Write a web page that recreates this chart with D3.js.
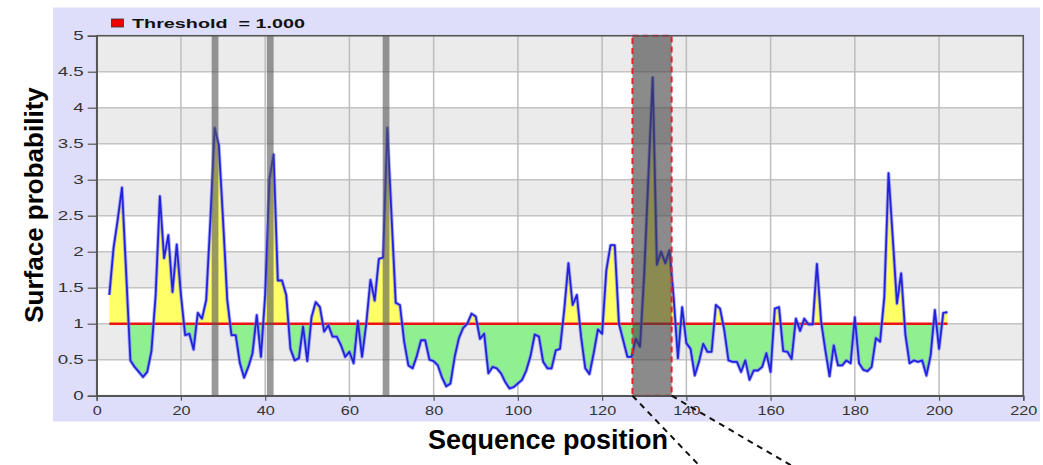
<!DOCTYPE html>
<html>
<head>
<meta charset="utf-8">
<script src="https://cdn.jsdelivr.net/npm/d3@7"></script>
<style>
  body { margin: 0; background: #fff; }
  svg { display: block; }
  text { font-family: "Liberation Sans", Arial, sans-serif; }
</style>
</head>
<body>
<div id="chart"></div>
<script>
// Sequence positions start at 3, one value per residue
const startPosition = 3;
const surfaceValues = [
  1.40, 2.05, 2.45, 2.89, 1.70, 0.49, 0.40, 0.33, 0.26, 0.33,
  0.62, 1.40, 2.77, 1.91, 2.23, 1.44, 2.10, 1.40, 0.84, 0.86,
  0.64, 1.15, 1.07, 1.33, 2.45, 3.72, 3.48, 2.44, 1.33, 0.84,
  0.84, 0.45, 0.25, 0.40, 0.59, 1.12, 0.54, 1.40, 3.00, 3.35,
  1.60, 1.60, 1.40, 0.65, 0.49, 0.52, 0.96, 0.48, 1.09, 1.30,
  1.23, 0.89, 0.98, 0.82, 0.82, 0.70, 0.54, 0.61, 0.45, 1.04,
  0.54, 1.00, 1.61, 1.32, 1.90, 1.92, 3.72, 2.50, 1.29, 1.26,
  0.75, 0.42, 0.38, 0.55, 0.77, 0.77, 0.50, 0.48, 0.42, 0.25,
  0.13, 0.17, 0.54, 0.80, 0.94, 1.00, 1.14, 1.10, 0.79, 0.86,
  0.31, 0.40, 0.38, 0.31, 0.19, 0.10, 0.12, 0.17, 0.22, 0.35,
  0.55, 0.85, 0.82, 0.47, 0.38, 0.38, 0.63, 0.65, 1.19, 1.84,
  1.26, 1.40, 0.82, 0.38, 0.30, 0.59, 0.92, 0.86, 1.74, 2.09,
  2.09, 1.00, 0.77, 0.54, 0.54, 0.79, 0.68, 1.70, 3.06, 4.42,
  1.82, 2.00, 1.84, 2.02, 1.35, 0.52, 1.23, 0.73, 0.65, 0.28,
  0.47, 0.72, 0.61, 0.61, 1.26, 1.21, 0.91, 0.49, 0.47, 0.47,
  0.33, 0.49, 0.22, 0.35, 0.35, 0.40, 0.59, 0.33, 1.21, 1.23,
  0.62, 0.61, 0.51, 1.07, 0.90, 1.07, 0.99, 0.99, 1.83, 1.03,
  0.63, 0.27, 0.70, 0.42, 0.42, 0.49, 0.45, 1.09, 0.45, 0.36,
  0.34, 0.40, 0.80, 0.75, 1.37, 3.09, 2.20, 1.28, 1.70, 0.85,
  0.45, 0.49, 0.47, 0.49, 0.28, 0.56, 1.19, 0.65, 1.15, 1.16
];
const threshold = 1.0;
const xTicks = [0, 20, 40, 60, 80, 100, 120, 140, 160, 180, 200, 220];
const yTicks = [0, 0.5, 1, 1.5, 2, 2.5, 3, 3.5, 4, 4.5, 5];
// highlighted epitope columns (sequence ranges)
const epitopeBars = [[27.3, 28.9], [40.4, 42.0], [67.9, 69.5]];
const selectedRange = [127.2, 136.5];

const width = 1043;
const height = 465;
const plot = { left: 96.7, right: 1023.3, top: 35.7, bottom: 395.7 };

const data = surfaceValues.map((v, i) => ({ pos: startPosition + i, value: v }));

const svg = d3.select("#chart")
    .append("svg")
    .attr("width", width)
    .attr("height", height);

const x = d3.scaleLinear().domain([0, 220]).range([plot.left, plot.right]);
const y = d3.scaleLinear().domain([0, 5]).range([plot.bottom, plot.top]);

// lavender chart panel
svg.append("rect")
    .attr("x", 53).attr("y", 7.5)
    .attr("width", 987).attr("height", 414)
    .attr("fill", "#dedefa");

// alternating bands
const bands = yTicks.slice(0, -1).map((t, i) => [t, yTicks[i + 1]]);
svg.append("g")
    .selectAll("rect")
    .data(bands)
    .join("rect")
    .attr("x", plot.left)
    .attr("y", d => y(d[1]))
    .attr("width", plot.right - plot.left)
    .attr("height", d => y(d[0]) - y(d[1]))
    .attr("fill", (d, i) => i % 2 === 0 ? "#ffffff" : "#ebebeb");

// grid
svg.append("g")
    .selectAll("line")
    .data(yTicks)
    .join("line")
    .attr("x1", plot.left).attr("x2", plot.right)
    .attr("y1", d => y(d)).attr("y2", d => y(d))
    .attr("stroke", "#c4c4c4")
    .attr("stroke-width", 1.5);

svg.append("g")
    .selectAll("line")
    .data(xTicks)
    .join("line")
    .attr("x1", d => x(d)).attr("x2", d => x(d))
    .attr("y1", plot.top).attr("y2", plot.bottom)
    .attr("stroke", "#bdbdbd")
    .attr("stroke-width", 1.5);

// fills between the curve and the threshold
const defs = svg.append("defs");
defs.append("clipPath").attr("id", "above")
    .append("rect")
    .attr("x", plot.left).attr("y", plot.top)
    .attr("width", plot.right - plot.left)
    .attr("height", y(threshold) - plot.top);
defs.append("clipPath").attr("id", "below")
    .append("rect")
    .attr("x", plot.left).attr("y", y(threshold))
    .attr("width", plot.right - plot.left)
    .attr("height", plot.bottom - y(threshold));

const area = d3.area()
    .x(d => x(d.pos))
    .y0(y(threshold))
    .y1(d => y(d.value));

svg.append("path")
    .datum(data)
    .attr("d", area)
    .attr("fill", "#ffff66")
    .attr("clip-path", "url(#above)");

svg.append("path")
    .datum(data)
    .attr("d", area)
    .attr("fill", "#8ef08e")
    .attr("clip-path", "url(#below)");

// threshold line
svg.append("line")
    .attr("x1", x(data[0].pos))
    .attr("x2", x(data[data.length - 1].pos))
    .attr("y1", y(threshold)).attr("y2", y(threshold))
    .attr("stroke", "#ee1111")
    .attr("stroke-width", 2.5);

// surface probability curve (soft halo + core)
const line = d3.line()
    .x(d => x(d.pos))
    .y(d => y(d.value));

svg.append("path")
    .datum(data)
    .attr("d", line)
    .attr("fill", "none")
    .attr("stroke", "#7a7aff")
    .attr("stroke-opacity", 0.6)
    .attr("stroke-width", 3.6)
    .attr("stroke-linejoin", "round");

svg.append("path")
    .datum(data)
    .attr("d", line)
    .attr("fill", "none")
    .attr("stroke", "#2222dd")
    .attr("stroke-width", 1.8)
    .attr("stroke-linejoin", "round");

// epitope columns
svg.append("g")
    .selectAll("rect")
    .data(epitopeBars)
    .join("rect")
    .attr("x", d => x(d[0]))
    .attr("y", plot.top)
    .attr("width", d => x(d[1]) - x(d[0]))
    .attr("height", plot.bottom - plot.top)
    .attr("fill", "#555")
    .attr("fill-opacity", 0.6);

// selected region
svg.append("rect")
    .attr("x", x(selectedRange[0]))
    .attr("y", plot.top)
    .attr("width", x(selectedRange[1]) - x(selectedRange[0]))
    .attr("height", plot.bottom - plot.top)
    .attr("fill", "#444")
    .attr("fill-opacity", 0.62)
    .attr("stroke", "#e8202a")
    .attr("stroke-width", 2)
    .attr("stroke-dasharray", "6,4");

// frame
svg.append("rect")
    .attr("x", plot.left).attr("y", plot.top)
    .attr("width", plot.right - plot.left)
    .attr("height", plot.bottom - plot.top)
    .attr("fill", "none")
    .attr("stroke", "#555")
    .attr("stroke-width", 1.5);

// axes
const yAxis = svg.append("g")
    .attr("transform", `translate(${plot.left},0)`)
    .call(d3.axisLeft(y).tickValues(yTicks).tickFormat(d => String(d)).tickSize(9).tickPadding(4));
const xAxis = svg.append("g")
    .attr("transform", `translate(0,${plot.bottom})`)
    .call(d3.axisBottom(x).tickValues(xTicks).tickFormat(d => String(d)).tickSize(5).tickPadding(5));

[yAxis, xAxis].forEach(g => {
    g.select(".domain").attr("stroke", "#555").attr("stroke-width", 1.5);
    g.selectAll(".tick line").attr("stroke", "#555").attr("stroke-width", 1.2);
    g.selectAll(".tick text")
        .attr("fill", "#333")
        .attr("font-size", 12.5)
        .attr("font-family", "Liberation Sans, Arial, sans-serif");
});
// the picture is stretched sideways, so stretch the tick labels too
yAxis.selectAll(".tick text")
    .attr("transform", function () {
        const tx = +d3.select(this).attr("x");
        return `translate(${tx},0) scale(1.5,1) translate(${-tx},0)`;
    });
xAxis.selectAll(".tick text")
    .attr("transform", "scale(1.3,1)");

// legend
svg.append("rect")
    .attr("x", 111.5).attr("y", 19)
    .attr("width", 12).attr("height", 8)
    .attr("fill", "#ee0000")
    .attr("stroke", "#333")
    .attr("stroke-width", 0.8);
svg.append("text")
    .attr("x", 132).attr("y", 27.5)
    .attr("font-size", 13.5)
    .attr("font-weight", "bold")
    .attr("fill", "#111")
    .attr("textLength", 173)
    .attr("lengthAdjust", "spacingAndGlyphs")
    .style("white-space", "pre")
    .text("Threshold  = 1.000");

// axis titles
svg.append("text")
    .attr("x", 548).attr("y", 449)
    .attr("text-anchor", "middle")
    .attr("font-size", 27)
    .attr("font-weight", "bold")
    .attr("fill", "#000")
    .text("Sequence position");

svg.append("text")
    .attr("transform", "translate(43,205) rotate(-90)")
    .attr("text-anchor", "middle")
    .attr("font-size", 26)
    .attr("font-weight", "bold")
    .attr("fill", "#000")
    .text("Surface probability");

// dashed leader lines from the selected region
const leaders = [
    { x0: x(selectedRange[0]), slope: 67 / 70 },
    { x0: x(selectedRange[1]), slope: 120 / 70 }
];
svg.append("g")
    .selectAll("line")
    .data(leaders)
    .join("line")
    .attr("x1", d => d.x0)
    .attr("y1", plot.bottom)
    .attr("x2", d => d.x0 + d.slope * (height + 5 - plot.bottom))
    .attr("y2", height + 5)
    .attr("stroke", "#111")
    .attr("stroke-width", 2)
    .attr("stroke-dasharray", "6,5");
</script>
</body>
</html>
